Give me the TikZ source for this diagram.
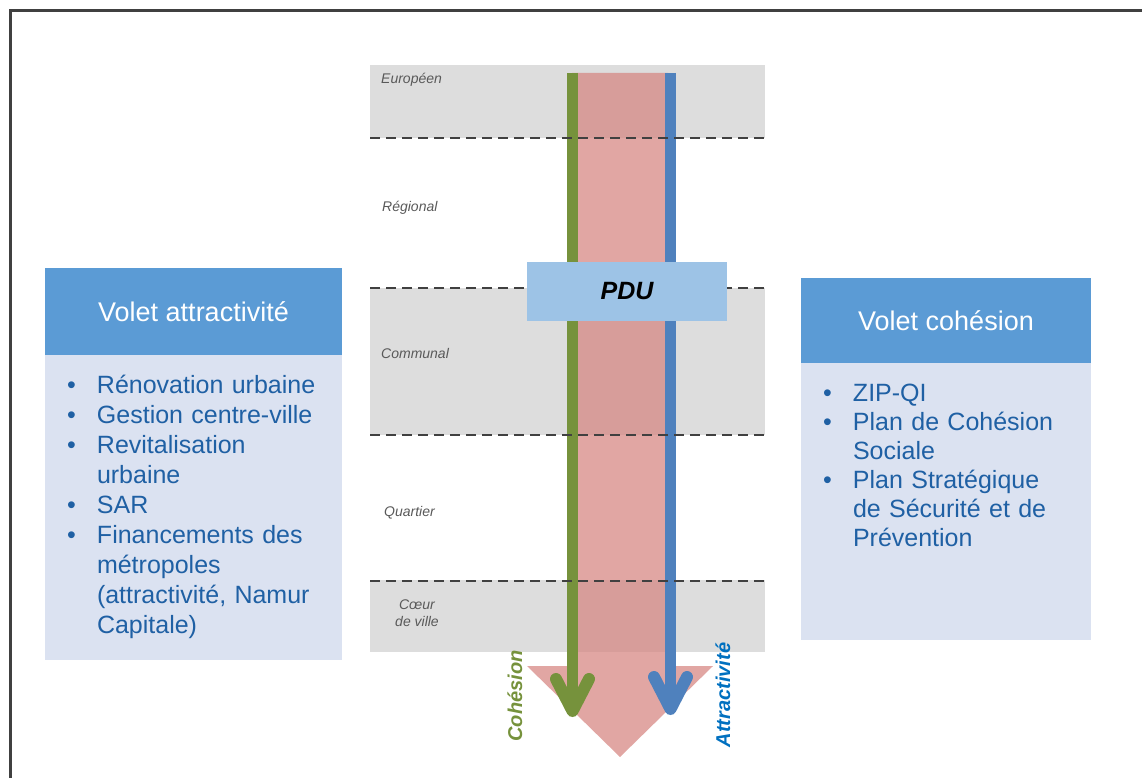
\documentclass[tikz,border=0pt]{standalone}
\usepackage{fontspec}
\setmainfont{Liberation Sans}
\usetikzlibrary{positioning}

\definecolor{hdrblue}{RGB}{91,155,213}
\definecolor{bodyblue}{RGB}{219,226,241}
\definecolor{txtblue}{RGB}{31,96,164}
\definecolor{olive}{RGB}{118,146,60}
\definecolor{steel}{RGB}{79,129,189}
\definecolor{pdublue}{RGB}{157,195,230}
\definecolor{bandgray}{RGB}{221,221,221}
\definecolor{salmon}{RGB}{214,135,131}
\definecolor{lvlgray}{RGB}{89,89,89}
\definecolor{framegray}{RGB}{64,64,64}
\definecolor{attrblue}{RGB}{0,112,192}

% one bullet item, hanging indent
\newcommand{\itm}[1]{\hangindent=30pt\hangafter=1\noindent\makebox[30pt][l]{\textbullet}#1\par}
\newcommand{\nl}{\break}

\begin{document}
\begin{tikzpicture}[x=1pt, y=-1pt,
    hdr/.style={fill=hdrblue, text=white, inner sep=0pt, font=\fontsize{27}{32}\selectfont},
    body/.style={fill=bodyblue, inner sep=0pt},
    items/.style={text=txtblue, inner sep=0pt, align=left, anchor=north west},
    lvl/.style={text=lvlgray, inner sep=0pt, font=\fontsize{14}{17}\selectfont\itshape},
    sep/.style={framegray, line width=2pt, dash pattern=on 10pt off 6pt},
    shaft/.style={line width=10.5pt},
    barb/.style={line width=12pt, line cap=round, line join=round},
    side/.style={rotate=90, inner sep=0pt, font=\fontsize{20}{24}\selectfont\bfseries\itshape}
]
    \useasboundingbox (0,0) rectangle (1142,778);
    \draw[framegray, line width=3pt] (10.5,778) -- (10.5,10.5) -- (1142,10.5);

    % niveaux
    \foreach \ya/\yb in {65/138, 288/435, 580/652}
        \fill[bandgray] (370,\ya) rectangle (765,\yb);
    \node[lvl, anchor=west] (eur) at (381,80) {Européen};
    \node[lvl, anchor=west] (reg) at (382,208) {Régional};
    \node[lvl, anchor=west] (com) at (381,353) {Communal};
    \node[lvl, anchor=west] (qua) at (384,513) {Quartier};
    \node[lvl, align=center] (coeur) at (417,613) {Cœur\\de ville};

    % grande fleche
    \fill[salmon, opacity=0.74] (572,73) -- (668,73) -- (668,666) -- (713,666)
        -- (620,757) -- (527,666) -- (572,666) -- cycle;

    \coordinate (cohTop) at (572.5,73);
    \coordinate (cohTip) at (572.5,711);
    \coordinate (attTop) at (670.5,73);
    \coordinate (attTip) at (670.5,709);
    \draw[shaft, olive] (cohTop) -- (cohTip);
    \draw[barb, olive] (cohTip) ++(-16.5,-32) -- (cohTip) -- ++(16.5,-32);
    \draw[shaft, steel] (attTop) -- (attTip);
    \draw[barb, steel] (attTip) ++(-16.5,-32) -- (attTip) -- ++(16.5,-32);

    \foreach \yy in {138, 288, 435, 581}
        \draw[sep] (370,\yy) -- (765,\yy);

    \node[fill=pdublue, minimum width=200pt, minimum height=59pt,
          font=\fontsize{25}{30}\selectfont\bfseries\itshape] (pdu) at (627,291.5) {PDU};

    \node[side, text=olive] (cohLbl) at (515,696) {Cohésion};
    \node[side, text=attrblue] (attLbl) at (723,695) {Attractivité};

    % volet attractivite
    \node[hdr, minimum width=297pt, minimum height=87pt] (attrHead) at (193.5,311.5) {Volet attractivité};
    \node[body, minimum width=297pt, minimum height=305pt, below=0pt of attrHead] (attrBody) {};
    \node[items, text width=265pt, font=\fontsize{25}{30}\selectfont,
          below right=17pt and 22pt of attrBody.north west] (attrList) {%
        \strut\itm{Rénovation urbaine}
        \itm{Gestion centre-ville}
        \itm{Revitalisation\nl urbaine}
        \itm{SAR}
        \itm{Financements des\nl métropoles\nl (attractivité, Namur\nl Capitale)}};

    % volet cohesion
    \node[hdr, minimum width=290pt, minimum height=85pt] (cohHead) at (946,320.5) {Volet cohésion};
    \node[body, minimum width=290pt, minimum height=277pt, below=0pt of cohHead] (cohBody) {};
    \node[items, text width=250pt, font=\fontsize{25}{29}\selectfont,
          below right=18pt and 22pt of cohBody.north west] (cohList) {%
        \strut\itm{ZIP-QI}
        \itm{Plan de Cohésion\nl Sociale}
        \itm{Plan Stratégique\nl de Sécurité et de\nl Prévention}};
\end{tikzpicture}
\end{document}
